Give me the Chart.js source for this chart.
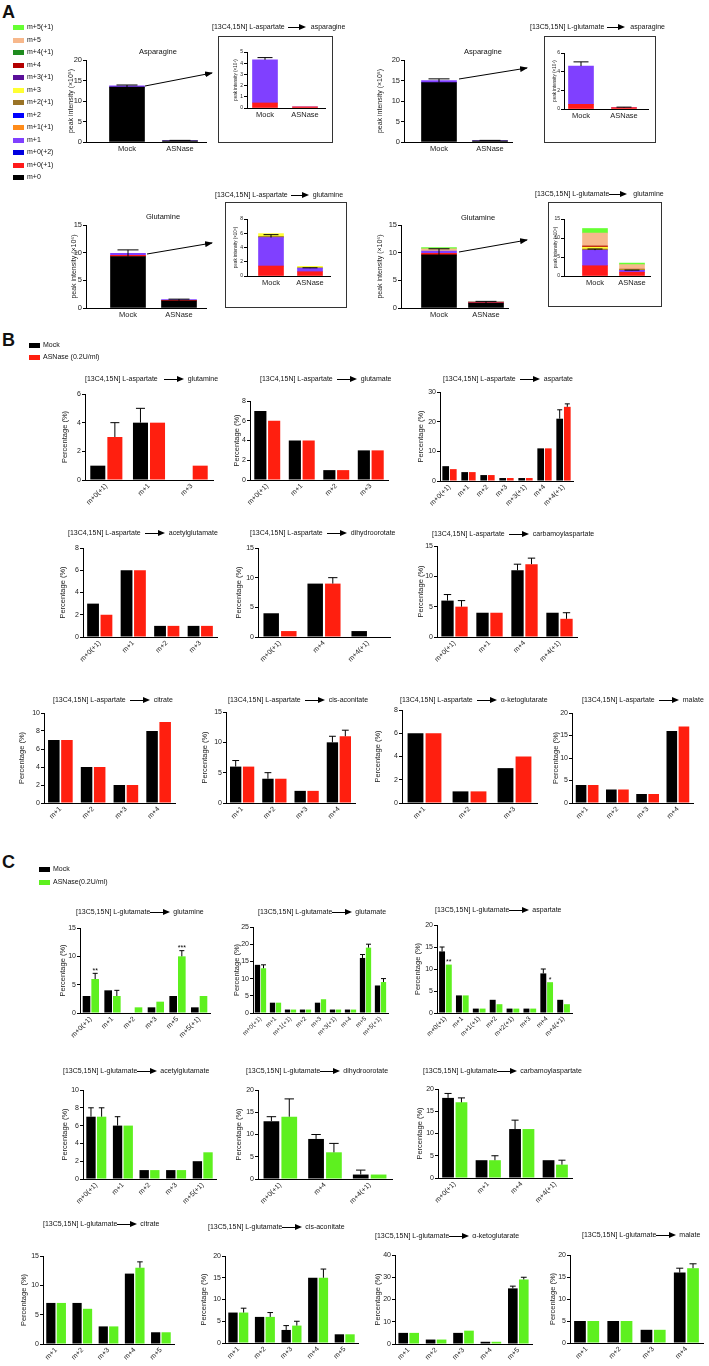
<!DOCTYPE html>
<html>
<head>
<meta charset="utf-8">
<script src="https://cdn.jsdelivr.net/npm/chart.js@4.4.0/dist/chart.umd.min.js"></script>
<style>
body { margin: 0; background: #fff; }
#page { position: relative; width: 709px; height: 1366px; overflow: hidden; font-family: "Liberation Sans", Arial, sans-serif; color: #111; }
canvas { position: absolute; }
.letter { position: absolute; font-weight: bold; font-size: 18px; line-height: 18px; }
.ttl { position: absolute; font-size: 7px; line-height: 10px; white-space: nowrap; will-change: transform; }
.arr { display: inline-block; position: relative; height: 1px; background: #000; vertical-align: middle; }
.arr:after { content: ""; position: absolute; right: -6px; top: -3px; border-left: 7px solid #000; border-top: 3.5px solid transparent; border-bottom: 3.5px solid transparent; }
.leg { position: absolute; font-size: 7px; line-height: 8px; white-space: nowrap; will-change: transform; }
.leg i { display: inline-block; width: 11px; height: 5px; margin-right: 3px; vertical-align: -0.5px; }
.box { position: absolute; border: 1.3px solid #333; box-sizing: border-box; }
.ctitle { position: absolute; font-size: 7.5px; line-height: 10px; transform: translateX(-50%); white-space: nowrap; will-change: transform; }
</style>
</head>
<body>
<div id="page"></div>
<script>
// ---------- Panel A: peak intensities (stacked isotopologues) ----------
const aGroups = ["Mock", "ASNase"];
const isoNames = ["m+5(+1)", "m+5", "m+4(+1)", "m+4", "m+3(+1)", "m+3", "m+2(+1)", "m+2", "m+1(+1)", "m+1", "m+0(+2)", "m+0(+1)", "m+0"];

const a1MainM0 = [13.4, 0.3];
const a1MainM1 = [0.3, 0.05];
const a1MainErr = [0.5, 0.1];
const a1InsM0p1 = [0.45, 0.1];
const a1InsM1 = [3.85, 0];
const a1InsErr = [0.2, 0];

const a2MainM0 = [14.5, 0.3];
const a2MainM1 = [0.5, 0.05];
const a2MainErr = [0.9, 0.1];
const a2InsM0p1 = [0.5, 0.15];
const a2InsM1 = [4.1, 0];
const a2InsErr = [0.45, 0.05];

const a3MainM0 = [9.3, 1.3];
const a3MainM0p1 = [0.2, 0.1];
const a3MainM1 = [0.4, 0.1];
const a3MainErr = [1.2, 0.3];
const a3InsM0p1 = [1.4, 0.6];
const a3InsM1 = [4.0, 0.5];
const a3InsM2p1 = [0.15, 0.05];
const a3InsM3 = [0.4, 0.2];
const a3InsErr = [0.4, 0.05];

const a4MainM0 = [9.6, 0.9];
const a4MainM0p1 = [0.3, 0.1];
const a4MainM1 = [0.4, 0.05];
const a4MainM5 = [0.4, 0.1];
const a4MainM5p1 = [0.2, 0.05];
const a4MainErr = [1.1, 0.3];
const a4InsM0p1 = [2.7, 1.0];
const a4InsM1 = [4.1, 0.5];
const a4InsM2p1 = [0.3, 0.2];
const a4InsM3 = [0.5, 0.05];
const a4InsM4 = [0.3, 0.05];
const a4InsM5 = [3.4, 1.2];
const a4InsM5p1 = [1.2, 0.4];
const a4InsErr = [0.3, 0.05];

// ---------- Panel B: [13C4,15N] L-aspartate, percentage ----------
const bGlnLabels = ["m+0(+1)", "m+1", "m+3"];
const bGlnMock = [1, 4, 0];
const bGlnAsn = [3, 4, 1];
const bGlnMockErr = [0, 1, 0];
const bGlnAsnErr = [1, 0, 0];

const bGluLabels = ["m+0(+1)", "m+1", "m+2", "m+3"];
const bGluMock = [7, 4, 1, 3];
const bGluAsn = [6, 4, 1, 3];

const bAspLabels = ["m+0(+1)", "m+1", "m+2", "m+3", "m+3(+1)", "m+4", "m+4(+1)"];
const bAspMock = [5, 3, 2, 1, 1, 11, 21];
const bAspAsn = [4, 3, 2, 1, 1, 11, 25];
const bAspMockErr = [0, 0, 0, 0, 0, 0, 3];
const bAspAsnErr = [0, 0, 0, 0, 0, 0, 1];

const bAcgLabels = ["m+0(+1)", "m+1", "m+2", "m+3"];
const bAcgMock = [3, 6, 1, 1];
const bAcgAsn = [2, 6, 1, 1];

const bDhoLabels = ["m+0(+1)", "m+4", "m+4(+1)"];
const bDhoMock = [4, 9, 1];
const bDhoAsn = [1, 9, 0];
const bDhoAsnErr = [0, 1, 0];

const bCasLabels = ["m+0(+1)", "m+1", "m+4", "m+4(+1)"];
const bCasMock = [6, 4, 11, 4];
const bCasAsn = [5, 4, 12, 3];
const bCasMockErr = [1, 0, 1, 0];
const bCasAsnErr = [1, 0, 1, 1];

const bCitLabels = ["m+1", "m+2", "m+3", "m+4"];
const bCitMock = [7, 4, 2, 8];
const bCitAsn = [7, 4, 2, 9];

const bCisLabels = ["m+1", "m+2", "m+3", "m+4"];
const bCisMock = [6, 4, 2, 10];
const bCisAsn = [6, 4, 2, 11];
const bCisMockErr = [1, 1, 0, 1];
const bCisAsnErr = [0, 0, 0, 1];

const bAkgLabels = ["m+1", "m+2", "m+3"];
const bAkgMock = [6, 1, 3];
const bAkgAsn = [6, 1, 4];

const bMalLabels = ["m+1", "m+2", "m+3", "m+4"];
const bMalMock = [4, 3, 2, 16];
const bMalAsn = [4, 3, 2, 17];

// ---------- Panel C: [13C5,15N] L-glutamate, percentage ----------
const cGlnLabels = ["m+0(+1)", "m+1", "m+2", "m+3", "m+5", "m+5(+1)"];
const cGlnMock = [3, 4, 0, 1, 3, 1];
const cGlnAsn = [6, 3, 1, 2, 10, 3];
const cGlnAsnErr = [1, 1, 0, 0, 1, 0];
const cGlnStars = ["**", "", "", "", "***", ""];

const cGluLabels = ["m+0(+1)", "m+1", "m+1(+1)", "m+2", "m+3", "m+3(+1)", "m+4", "m+5", "m+5(+1)"];
const cGluMock = [14, 3, 1, 1, 3, 1, 1, 16, 8];
const cGluAsn = [13, 3, 1, 1, 4, 1, 1, 19, 9];
const cGluMockErr = [0, 0, 0, 0, 0, 0, 0, 1, 0];
const cGluAsnErr = [1, 0, 0, 0, 0, 0, 0, 1, 1];

const cAspLabels = ["m+0(+1)", "m+1", "m+1(+1)", "m+2", "m+2(+1)", "m+3", "m+4", "m+4(+1)"];
const cAspMock = [14, 4, 1, 3, 1, 1, 9, 3];
const cAspAsn = [11, 4, 1, 2, 1, 1, 7, 2];
const cAspMockErr = [1, 0, 0, 0, 0, 0, 1, 0];
const cAspStars = ["**", "", "", "", "", "", "*", ""];

const cAcgLabels = ["m+0(+1)", "m+1", "m+2", "m+3", "m+5(+1)"];
const cAcgMock = [7, 6, 1, 1, 2];
const cAcgAsn = [7, 6, 1, 1, 3];
const cAcgMockErr = [1, 1, 0, 0, 0];
const cAcgAsnErr = [1, 0, 0, 0, 0];

const cDhoLabels = ["m+0(+1)", "m+4", "m+4(+1)"];
const cDhoMock = [13, 9, 1];
const cDhoAsn = [14, 6, 1];
const cDhoMockErr = [1, 1, 1];
const cDhoAsnErr = [4, 2, 0];

const cCasLabels = ["m+0(+1)", "m+1", "m+4", "m+4(+1)"];
const cCasMock = [18, 4, 11, 4];
const cCasAsn = [17, 4, 11, 3];
const cCasMockErr = [1, 0, 2, 0];
const cCasAsnErr = [1, 1, 0, 1];

const cCitLabels = ["m+1", "m+2", "m+3", "m+4", "m+5"];
const cCitMock = [7, 7, 3, 12, 2];
const cCitAsn = [7, 6, 3, 13, 2];
const cCitAsnErr = [0, 0, 0, 1, 0];

const cCisLabels = ["m+1", "m+2", "m+3", "m+4", "m+5"];
const cCisMock = [7, 6, 3, 15, 2];
const cCisAsn = [7, 6, 4, 15, 2];
const cCisMockErr = [0, 0, 1, 0, 0];
const cCisAsnErr = [1, 1, 1, 2, 0];

const cAkgLabels = ["m+1", "m+2", "m+3", "m+4", "m+5"];
const cAkgMock = [5, 2, 5, 1, 25];
const cAkgAsn = [5, 2, 6, 1, 29];
const cAkgMockErr = [0, 0, 0, 0, 1];
const cAkgAsnErr = [0, 0, 0, 0, 1];

const cMalLabels = ["m+1", "m+2", "m+3", "m+4"];
const cMalMock = [5, 5, 3, 16];
const cMalAsn = [5, 5, 3, 17];
const cMalMockErr = [0, 0, 0, 1];
const cMalAsnErr = [0, 0, 0, 1];

// ---------- styles ----------
const RED = "#ff1f0f";
const GREEN = "#5ef01f";
const isoColor = {
  "m+5(+1)": "#66ff33", "m+5": "#f7b88c", "m+4(+1)": "#1f8c1f", "m+4": "#b30000",
  "m+3(+1)": "#5a0f99", "m+3": "#ffff33", "m+2(+1)": "#9a7326", "m+2": "#0000ff",
  "m+1(+1)": "#ff8c1a", "m+1": "#8040ff", "m+0(+2)": "#0000e0", "m+0(+1)": "#ff1a1a", "m+0": "#000000"
};
const FONT = "'Liberation Sans', Arial, sans-serif";
Chart.defaults.font.family = FONT;
Chart.defaults.color = "#222";

const page = document.getElementById("page");

// upward error bars + significance stars
Chart.register({
  id: "errorBars",
  afterDatasetsDraw(chart) {
    const ctx = chart.ctx;
    const y = chart.scales.y;
    const unit = y.getPixelForValue(0) - y.getPixelForValue(1);
    chart.data.datasets.forEach(function (ds, i) {
      chart.getDatasetMeta(i).data.forEach(function (el, j) {
        const e = ds.errors ? (ds.errors[j] || 0) : 0;
        let top = el.y;
        ctx.save();
        if (e > 0) {
          top = el.y - e * unit;
          const cap = Math.max(2.5, el.width * 0.3);
          ctx.strokeStyle = "#000";
          ctx.lineWidth = 1;
          ctx.beginPath();
          ctx.moveTo(el.x, el.y);
          ctx.lineTo(el.x, top);
          ctx.moveTo(el.x - cap, top);
          ctx.lineTo(el.x + cap, top);
          ctx.stroke();
        }
        if (ds.stars && ds.stars[j]) {
          ctx.fillStyle = "#000";
          ctx.font = "7px " + FONT;
          ctx.textAlign = "center";
          ctx.textBaseline = "bottom";
          ctx.fillText(ds.stars[j], el.x, top + 1);
        }
        ctx.restore();
      });
    });
  }
});

function el(tag, cls, css, html) {
  const d = document.createElement(tag);
  if (cls) d.className = cls;
  Object.assign(d.style, css || {});
  if (html !== undefined) d.innerHTML = html;
  page.appendChild(d);
  return d;
}

// frame: place the canvas so that the chart area lands on the measured axes
function frame(p, xh, titleSize) {
  const yW = Math.round(p.axisX - p.titleX + titleSize * 0.6);
  const padL = 1;
  const left = p.axisX - yW - padL;
  const top = p.topY - 6;
  return { yW: yW, padL: padL, left: left, top: top, w: p.endX - left + 6, h: p.zeroY - top + xh + 2 };
}

function canvasFor(f) {
  const c = document.createElement("canvas");
  c.width = f.w; c.height = f.h;
  c.style.left = f.left + "px"; c.style.top = f.top + "px";
  page.appendChild(c);
  return c.getContext("2d");
}

function options(f, xh, o) {
  return {
    responsive: false, animation: false,
    layout: { padding: { left: f.padL, top: 6, right: 6, bottom: 2 } },
    plugins: { legend: { display: false }, tooltip: { enabled: false } },
    scales: {
      x: {
        stacked: !!o.stacked,
        grid: { display: false, drawTicks: false },
        border: { color: "#000", width: 1 },
        ticks: { autoSkip: false, minRotation: o.rot, maxRotation: o.rot, padding: 2, color: "#222", font: { size: o.xFont } },
        afterFit: function (s) { s.height = xh; }
      },
      y: {
        stacked: !!o.stacked, min: 0, max: o.max,
        grid: { drawOnChartArea: false, drawTicks: true, tickLength: 3, color: "#000" },
        border: { color: "#000", width: 1 },
        ticks: { stepSize: o.step, padding: 1, color: "#222", font: { size: o.yFont } },
        title: { display: true, text: o.yTitle, padding: 0, color: "#222", font: { size: o.titleFont } },
        afterFit: function (s) { s.width = f.yW; }
      }
    }
  };
}

function heading(h) {
  const arrow = '<span class="arr" style="width:' + h.len + 'px;margin-left:' + h.g1 + 'px;margin-right:' + (h.g2 + 6) + 'px"></span>';
  el("div", "ttl", { left: h.x + "px", top: (h.y - 5) + "px" }, h.src + arrow + h.dst);
}

function percentChart(c) {
  const xh = 32;
  const f = frame(c.pos, xh, 7.5);
  new Chart(canvasFor(f), {
    type: "bar",
    data: {
      labels: c.labels,
      datasets: [
        { label: "Mock", data: c.mock, backgroundColor: "#000", errors: c.mockErr || [], categoryPercentage: 0.8, barPercentage: 0.88 },
        { label: "ASNase", data: c.asn, backgroundColor: c.color, errors: c.asnErr || [], stars: c.stars, categoryPercentage: 0.8, barPercentage: 0.88 }
      ]
    },
    options: options(f, xh, { rot: 45, xFont: c.xFont || 7, yFont: 7, titleFont: 7.5, max: c.max, step: c.step, yTitle: "Percentage (%)" })
  });
  heading(c.head);
}

// stacked Mock / ASNase bars; the group axis is linear (1 = Mock, 2 = ASNase)
// so that the bar centres can sit where they sit in the figure
function stackChart(c) {
  const f = frame(c.pos, c.xh, c.titleFont);
  const k = c.centers[1] - c.centers[0];
  const xMin = 1 - (c.centers[0] - c.pos.axisX) / k;
  const xMax = xMin + (c.pos.endX - c.pos.axisX) / k;
  const opts = options(f, c.xh, { stacked: true, rot: 0, xFont: 7.5, yFont: c.yFont, titleFont: c.titleFont, max: c.max, step: c.step, yTitle: c.yTitle });
  Object.assign(opts.scales.x, {
    type: "linear", min: xMin, max: xMax, offset: false,
    afterBuildTicks: function (s) { s.ticks = aGroups.map(function (g, i) { return { value: i + 1 }; }); }
  });
  opts.scales.x.ticks.callback = function (v) { return aGroups[v - 1] || ""; };
  new Chart(canvasFor(f), {
    type: "bar",
    data: {
      datasets: c.series.map(function (s) {
        return {
          label: s.iso, backgroundColor: isoColor[s.iso], errors: s.err || [], barThickness: c.barW,
          data: s.data.map(function (v, i) { return { x: i + 1, y: v }; })
        };
      })
    },
    options: opts
  });
}

// ---------- panel letters and legends ----------
el("div", "letter", { left: "2px", top: "3px" }, "A");
el("div", "letter", { left: "2px", top: "331px" }, "B");
el("div", "letter", { left: "2px", top: "853px" }, "C");

isoNames.forEach(function (n, i) {
  el("div", "leg", { left: "13px", top: (23 + i * 12.5) + "px" }, '<i style="background:' + isoColor[n] + '"></i>' + n);
});
el("div", "leg", { left: "29px", top: "341px" }, '<i style="background:#000"></i>Mock');
el("div", "leg", { left: "29px", top: "353px" }, '<i style="background:' + RED + '"></i>ASNase (0.2U/ml)');
el("div", "leg", { left: "39px", top: "865px" }, '<i style="background:#000"></i>Mock');
el("div", "leg", { left: "39px", top: "878px" }, '<i style="background:' + GREEN + '"></i>ASNase(0.2U/ml)');

// ---------- Panel A ----------
[[218, 36, 115, 107], [544, 36, 112, 107], [225, 202, 122, 106], [548, 202, 114, 105]].forEach(function (b) {
  el("div", "box", { left: b[0] + "px", top: b[1] + "px", width: b[2] + "px", height: b[3] + "px" });
});
el("div", "ctitle", { left: "158px", top: "47px" }, "Asparagine");
el("div", "ctitle", { left: "483px", top: "47px" }, "Asparagine");
el("div", "ctitle", { left: "163px", top: "212px" }, "Glutamine");
el("div", "ctitle", { left: "478px", top: "213px" }, "Glutamine");
heading({ x: 212, y: 27, src: "[13C4,15N] L-aspartate", dst: "asparagine", g1: 3, len: 12, g2: 5 });
heading({ x: 530, y: 27, src: "[13C5,15N] L-glutamate", dst: "asparagine", g1: 3, len: 12, g2: 5 });
heading({ x: 215, y: 195, src: "[13C4,15N] L-aspartate", dst: "glutamine", g1: 3, len: 12, g2: 4 });
heading({ x: 535, y: 194, src: "[13C5,15N] L-glutamate", dst: "glutamine", g1: 0, len: 12, g2: 6 });

const svgNS = "http://www.w3.org/2000/svg";
const svg = document.createElementNS(svgNS, "svg");
svg.setAttribute("width", "709"); svg.setAttribute("height", "330");
svg.style.position = "absolute"; svg.style.left = "0"; svg.style.top = "0";
svg.innerHTML = '<defs><marker id="ah" markerWidth="8" markerHeight="6" refX="7" refY="3" orient="auto" markerUnits="userSpaceOnUse"><path d="M0,0 L8,3 L0,6 z" fill="#000"/></marker></defs>';
[[145, 86, 212, 73], [459, 79, 527, 68], [147, 254, 212, 243], [459, 252, 527, 240]].forEach(function (a) {
  const l = document.createElementNS(svgNS, "line");
  l.setAttribute("x1", a[0]); l.setAttribute("y1", a[1]); l.setAttribute("x2", a[2]); l.setAttribute("y2", a[3]);
  l.setAttribute("stroke", "#000"); l.setAttribute("stroke-width", "1"); l.setAttribute("marker-end", "url(#ah)");
  svg.appendChild(l);
});
page.appendChild(svg);

const mainOpts = { xh: 14, barW: 35, yFont: 7.5, titleFont: 7 };
const insOpts = { xh: 13, barW: 25, yFont: 5, titleFont: 4.5 };

stackChart(Object.assign({}, mainOpts, { pos: { axisX: 86, topY: 60, zeroY: 142, endX: 206, titleX: 71 }, centers: [127, 180], max: 20, step: 5, yTitle: "peak intensity (×10⁵)",
  series: [{ iso: "m+0", data: a1MainM0, err: a1MainErr }, { iso: "m+1", data: a1MainM1 }] }));
stackChart(Object.assign({}, insOpts, { pos: { axisX: 247, topY: 52, zeroY: 108, endX: 325, titleX: 236 }, centers: [265, 305], max: 5, step: 1, yTitle: "peak intensity (×10⁴)",
  series: [{ iso: "m+0(+1)", data: a1InsM0p1 }, { iso: "m+1", data: a1InsM1, err: a1InsErr }] }));

stackChart(Object.assign({}, mainOpts, { pos: { axisX: 404, topY: 60, zeroY: 142, endX: 512, titleX: 380 }, centers: [439, 490], max: 20, step: 5, yTitle: "peak intensity (×10⁵)",
  series: [{ iso: "m+0", data: a2MainM0, err: a2MainErr }, { iso: "m+1", data: a2MainM1 }] }));
stackChart(Object.assign({}, insOpts, { pos: { axisX: 564, topY: 53, zeroY: 109, endX: 648, titleX: 555 }, centers: [581, 624], max: 6, step: 2, yTitle: "peak intensity (×10⁴)",
  series: [{ iso: "m+0(+1)", data: a2InsM0p1 }, { iso: "m+1", data: a2InsM1, err: a2InsErr }] }));

stackChart(Object.assign({}, mainOpts, { pos: { axisX: 86, topY: 225, zeroY: 308, endX: 206, titleX: 74 }, centers: [128, 179], max: 15, step: 5, yTitle: "peak intensity (×10⁶)",
  series: [{ iso: "m+0", data: a3MainM0, err: a3MainErr }, { iso: "m+0(+1)", data: a3MainM0p1 }, { iso: "m+1", data: a3MainM1 }] }));
stackChart(Object.assign({}, insOpts, { pos: { axisX: 247, topY: 219, zeroY: 276, endX: 330, titleX: 236 }, centers: [271, 310], max: 8, step: 2, yTitle: "peak intensity (×10⁵)",
  series: [{ iso: "m+0(+1)", data: a3InsM0p1 }, { iso: "m+1", data: a3InsM1, err: a3InsErr }, { iso: "m+2(+1)", data: a3InsM2p1 }, { iso: "m+3", data: a3InsM3 }] }));

stackChart(Object.assign({}, mainOpts, { pos: { axisX: 401, topY: 225, zeroY: 308, endX: 508, titleX: 380 }, centers: [439, 486], max: 15, step: 5, yTitle: "peak intensity (×10⁶)",
  series: [{ iso: "m+0", data: a4MainM0, err: a4MainErr }, { iso: "m+0(+1)", data: a4MainM0p1 }, { iso: "m+1", data: a4MainM1 }, { iso: "m+5", data: a4MainM5 }, { iso: "m+5(+1)", data: a4MainM5p1 }] }));
stackChart(Object.assign({}, insOpts, { pos: { axisX: 564, topY: 219, zeroY: 276, endX: 650, titleX: 556 }, centers: [595, 632], max: 15, step: 5, yTitle: "peak intensity (×10⁵)",
  series: [{ iso: "m+0(+1)", data: a4InsM0p1 }, { iso: "m+1", data: a4InsM1, err: a4InsErr }, { iso: "m+2(+1)", data: a4InsM2p1 }, { iso: "m+3", data: a4InsM3 },
           { iso: "m+4", data: a4InsM4 }, { iso: "m+5", data: a4InsM5 }, { iso: "m+5(+1)", data: a4InsM5p1 }] }));

// ---------- Panels B and C ----------
const asp = "[13C4,15N] L-aspartate";
const glu = "[13C5,15N] L-glutamate";
const bh = { g1: 4, len: 14, g2: 4 };
const ch = { g1: 0, len: 14, g2: 3 };

[
  { pos: { axisX: 85, topY: 394, zeroY: 480, endX: 213, titleX: 65 }, head: { x: 85, y: 379, src: asp, dst: "glutamine", g1: 6, len: 14, g2: 4 },
    labels: bGlnLabels, mock: bGlnMock, asn: bGlnAsn, mockErr: bGlnMockErr, asnErr: bGlnAsnErr, max: 6, step: 2, color: RED },
  { pos: { axisX: 250, topY: 401, zeroY: 480, endX: 388, titleX: 237 }, head: Object.assign({ x: 260, y: 379, src: asp, dst: "glutamate" }, bh),
    labels: bGluLabels, mock: bGluMock, asn: bGluAsn, max: 8, step: 2, color: RED },
  { pos: { axisX: 440, topY: 392, zeroY: 481, endX: 573, titleX: 421 }, head: Object.assign({ x: 443, y: 379, src: asp, dst: "aspartate" }, bh),
    labels: bAspLabels, mock: bAspMock, asn: bAspAsn, mockErr: bAspMockErr, asnErr: bAspAsnErr, max: 30, step: 10, color: RED },
  { pos: { axisX: 83, topY: 548, zeroY: 637, endX: 217, titleX: 63 }, head: Object.assign({ x: 68, y: 533, src: asp, dst: "acetylglutamate" }, bh),
    labels: bAcgLabels, mock: bAcgMock, asn: bAcgAsn, max: 8, step: 2, color: RED },
  { pos: { axisX: 258, topY: 548, zeroY: 637, endX: 390, titleX: 239 }, head: Object.assign({ x: 250, y: 533, src: asp, dst: "dihydroorotate" }, bh),
    labels: bDhoLabels, mock: bDhoMock, asn: bDhoAsn, asnErr: bDhoAsnErr, max: 15, step: 5, color: RED },
  { pos: { axisX: 437, topY: 546, zeroY: 637, endX: 577, titleX: 421 }, head: Object.assign({ x: 432, y: 534, src: asp, dst: "carbamoylaspartate" }, bh),
    labels: bCasLabels, mock: bCasMock, asn: bCasAsn, mockErr: bCasMockErr, asnErr: bCasAsnErr, max: 15, step: 5, color: RED },
  { pos: { axisX: 44, topY: 713, zeroY: 803, endX: 175, titleX: 22 }, head: Object.assign({ x: 53, y: 700, src: asp, dst: "citrate" }, bh),
    labels: bCitLabels, mock: bCitMock, asn: bCitAsn, max: 10, step: 2, color: RED },
  { pos: { axisX: 226, topY: 712, zeroY: 803, endX: 355, titleX: 205 }, head: Object.assign({ x: 228, y: 700, src: asp, dst: "cis-aconitate" }, bh),
    labels: bCisLabels, mock: bCisMock, asn: bCisAsn, mockErr: bCisMockErr, asnErr: bCisAsnErr, max: 15, step: 5, color: RED },
  { pos: { axisX: 402, topY: 710, zeroY: 803, endX: 537, titleX: 378 }, head: Object.assign({ x: 400, y: 700, src: asp, dst: "α-ketoglutarate" }, bh),
    labels: bAkgLabels, mock: bAkgMock, asn: bAkgAsn, max: 8, step: 2, color: RED },
  { pos: { axisX: 572, topY: 713, zeroY: 803, endX: 693, titleX: 556 }, head: Object.assign({ x: 582, y: 700, src: asp, dst: "malate" }, bh),
    labels: bMalLabels, mock: bMalMock, asn: bMalAsn, max: 20, step: 5, color: RED },

  { pos: { axisX: 80, topY: 928, zeroY: 1013, endX: 210, titleX: 63 }, head: Object.assign({ x: 76, y: 912, src: glu, dst: "glutamine" }, ch),
    labels: cGlnLabels, mock: cGlnMock, asn: cGlnAsn, asnErr: cGlnAsnErr, stars: cGlnStars, max: 15, step: 5, color: GREEN },
  { pos: { axisX: 253, topY: 927, zeroY: 1013, endX: 388, titleX: 237 }, head: Object.assign({ x: 258, y: 912, src: glu, dst: "glutamate" }, ch),
    labels: cGluLabels, mock: cGluMock, asn: cGluAsn, mockErr: cGluMockErr, asnErr: cGluAsnErr, max: 25, step: 5, color: GREEN, xFont: 6.3 },
  { pos: { axisX: 437, topY: 925, zeroY: 1013, endX: 572, titleX: 418 }, head: Object.assign({ x: 435, y: 910, src: glu, dst: "aspartate" }, ch),
    labels: cAspLabels, mock: cAspMock, asn: cAspAsn, mockErr: cAspMockErr, stars: cAspStars, max: 20, step: 5, color: GREEN, xFont: 6.5 },
  { pos: { axisX: 83, topY: 1090, zeroY: 1179, endX: 216, titleX: 65 }, head: Object.assign({ x: 63, y: 1071, src: glu, dst: "acetylglutamate" }, ch),
    labels: cAcgLabels, mock: cAcgMock, asn: cAcgAsn, mockErr: cAcgMockErr, asnErr: cAcgAsnErr, max: 10, step: 2, color: GREEN },
  { pos: { axisX: 258, topY: 1090, zeroY: 1179, endX: 392, titleX: 239 }, head: Object.assign({ x: 246, y: 1071, src: glu, dst: "dihydroorotate" }, ch),
    labels: cDhoLabels, mock: cDhoMock, asn: cDhoAsn, mockErr: cDhoMockErr, asnErr: cDhoAsnErr, max: 20, step: 5, color: GREEN },
  { pos: { axisX: 438, topY: 1089, zeroY: 1178, endX: 572, titleX: 420 }, head: Object.assign({ x: 423, y: 1071, src: glu, dst: "carbamoylaspartate" }, ch),
    labels: cCasLabels, mock: cCasMock, asn: cCasAsn, mockErr: cCasMockErr, asnErr: cCasAsnErr, max: 20, step: 5, color: GREEN },
  { pos: { axisX: 43, topY: 1256, zeroY: 1344, endX: 174, titleX: 24 }, head: Object.assign({ x: 43, y: 1224, src: glu, dst: "citrate" }, ch),
    labels: cCitLabels, mock: cCitMock, asn: cCitAsn, asnErr: cCitAsnErr, max: 15, step: 5, color: GREEN },
  { pos: { axisX: 225, topY: 1256, zeroY: 1343, endX: 358, titleX: 204 }, head: Object.assign({ x: 208, y: 1227, src: glu, dst: "cis-aconitate" }, ch),
    labels: cCisLabels, mock: cCisMock, asn: cCisAsn, mockErr: cCisMockErr, asnErr: cCisAsnErr, max: 20, step: 5, color: GREEN },
  { pos: { axisX: 395, topY: 1255, zeroY: 1344, endX: 532, titleX: 378 }, head: Object.assign({ x: 375, y: 1236, src: glu, dst: "α-ketoglutarate" }, ch),
    labels: cAkgLabels, mock: cAkgMock, asn: cAkgAsn, mockErr: cAkgMockErr, asnErr: cAkgAsnErr, max: 40, step: 10, color: GREEN },
  { pos: { axisX: 570, topY: 1255, zeroY: 1343, endX: 703, titleX: 553 }, head: Object.assign({ x: 582, y: 1235, src: glu, dst: "malate" }, ch),
    labels: cMalLabels, mock: cMalMock, asn: cMalAsn, mockErr: cMalMockErr, asnErr: cMalAsnErr, max: 20, step: 5, color: GREEN }
].forEach(percentChart);
</script>
</body>
</html>
